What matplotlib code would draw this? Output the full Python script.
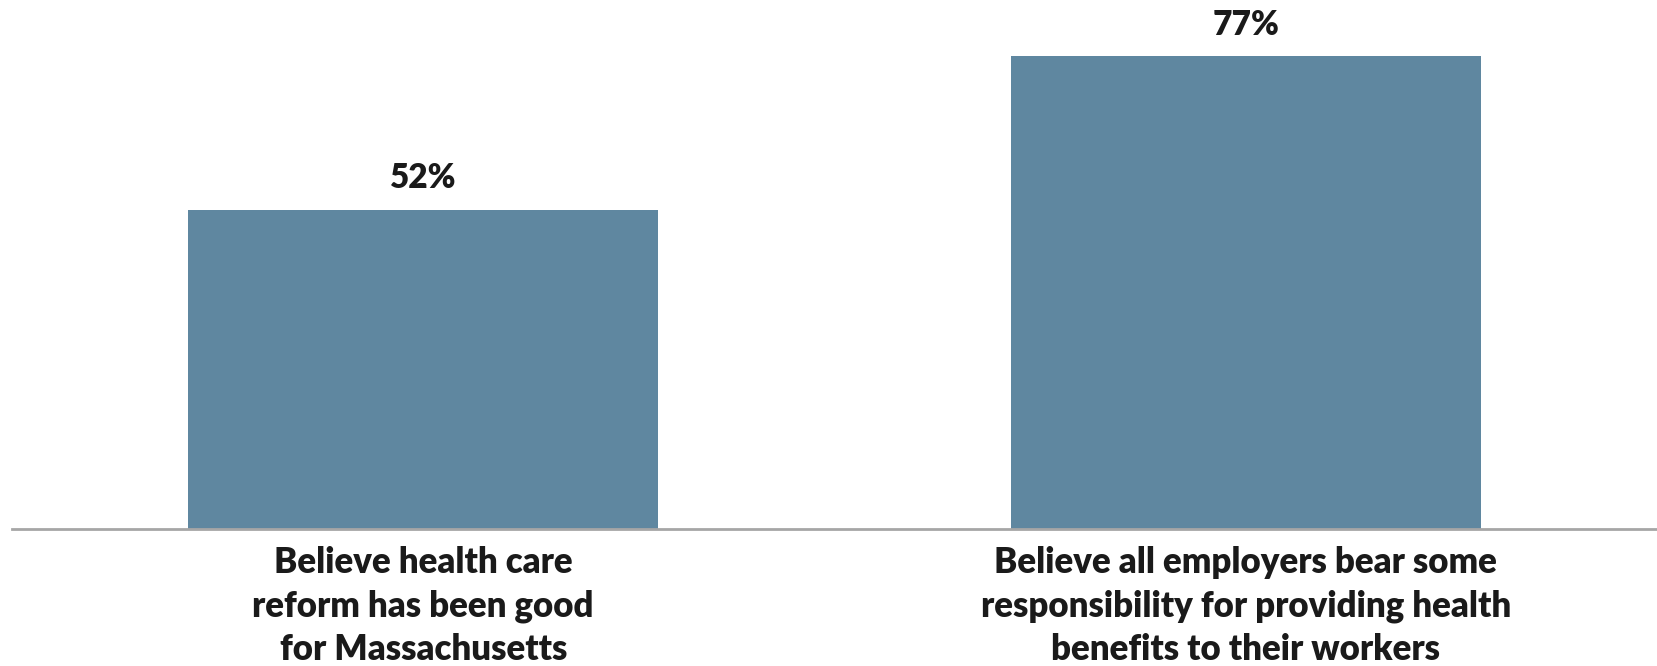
import matplotlib
matplotlib.use('Agg')
import matplotlib.pyplot as plt

# data
categories = [
    "Believe health care\nreform has been good\nfor Massachusetts",
    "Believe all employers bear some\nresponsibility for providing health\nbenefits to their workers",
]
values = [52, 77]
value_labels = ["52%", "77%"]

BAR_COLOR = '#5F87A0'
TEXT_COLOR = '#1A1A1A'

plt.rcParams['font.family'] = ['Lato', 'DejaVu Sans']

fig = plt.figure(figsize=(16.57, 6.66), dpi=100)
ax = fig.add_axes([12 / 1657, 137 / 666, 1645 / 1657, 529 / 666])

x = range(len(values))
bars = ax.bar(x, values, width=0.571, color=BAR_COLOR, zorder=2)

# value labels above the bars
for b, lab in zip(bars, value_labels):
    ax.annotate(lab, (b.get_x() + b.get_width() / 2, b.get_height()),
                xytext=(0, 23), textcoords='offset points',
                ha='center', va='center', fontsize=24, fontweight='heavy',
                color=TEXT_COLOR)

ax.set_xlim(-0.5, 1.5)
ax.set_ylim(0, 86.2)

ax.set_xticks(list(x))
ax.set_xticklabels(categories, fontsize=25, fontweight='heavy', color=TEXT_COLOR,
                   linespacing=1.39)
ax.tick_params(axis='x', length=0, pad=12)
ax.set_yticks([])

for s in ['top', 'right', 'left']:
    ax.spines[s].set_visible(False)
ax.spines['bottom'].set_color('#A6A6A6')
ax.spines['bottom'].set_linewidth(2)

fig.savefig('out.png', dpi=100, facecolor='white')
